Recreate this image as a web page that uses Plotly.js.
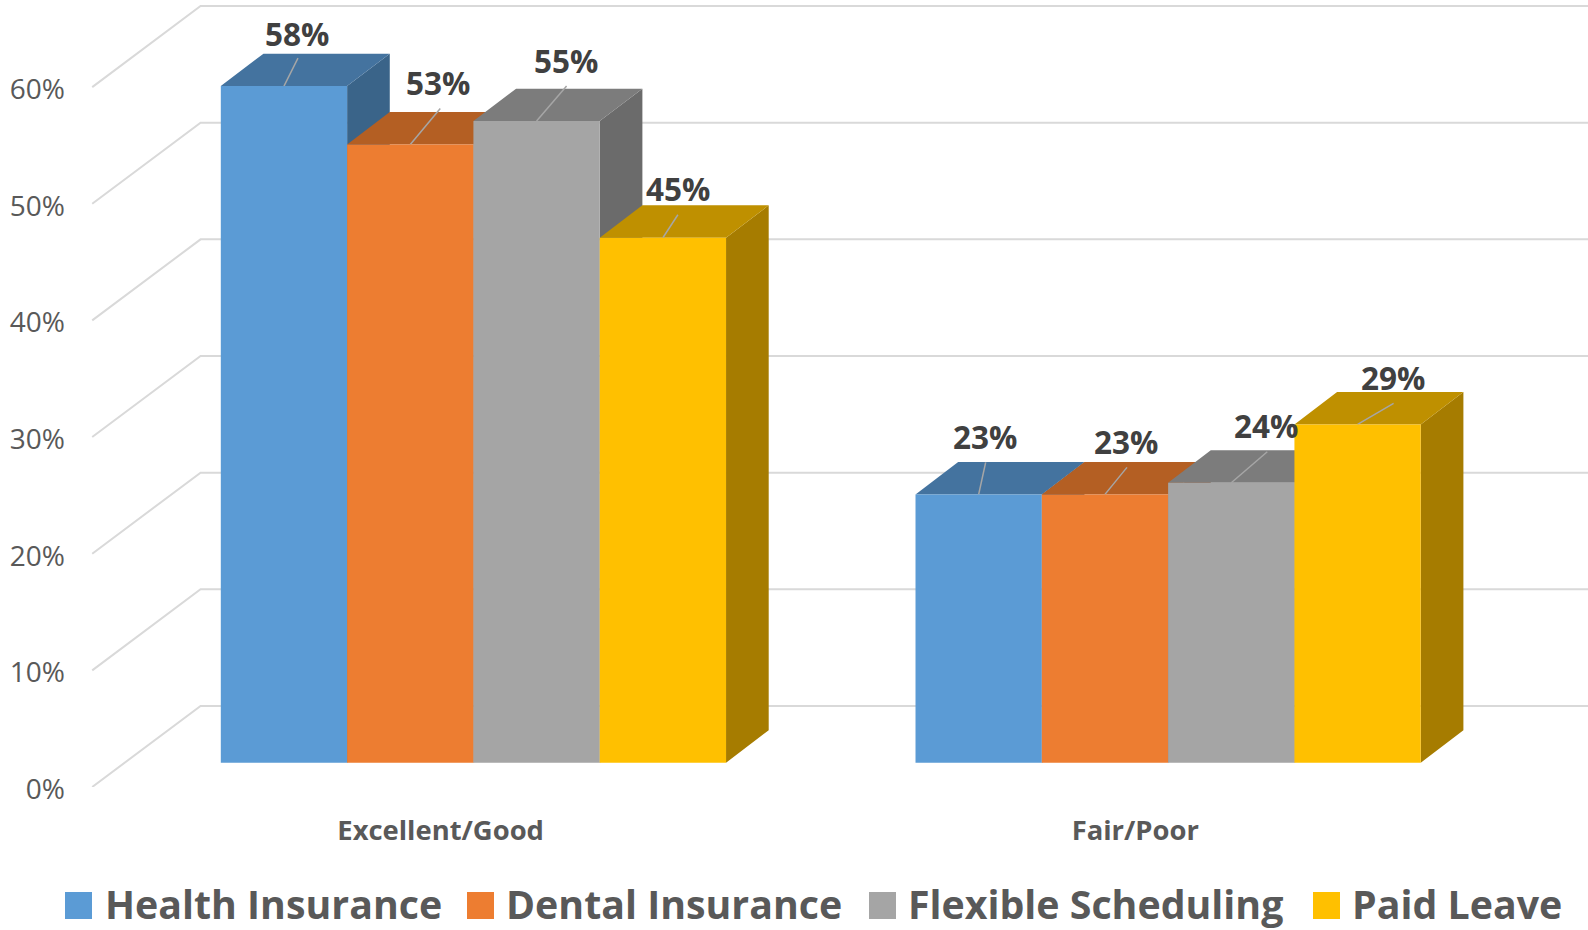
<!DOCTYPE html>
<html><head><meta charset="utf-8">
<script src="https://cdn.plot.ly/plotly-3.0.1.min.js"></script>
<style>html,body{margin:0;padding:0;background:#fff;overflow:hidden}#c{width:1588px;height:930px}</style>
</head><body><div id="c"></div>
<script>
// ---- data ----
const categories = ['Excellent/Good', 'Fair/Poor'];
const seriesNames = ['Health Insurance', 'Dental Insurance', 'Flexible Scheduling', 'Paid Leave'];
const healthInsurance = [58, 23];
const dentalInsurance = [53, 23];
const flexibleScheduling = [55, 24];
const paidLeave = [45, 29];
const yTicks = [0, 10, 20, 30, 40, 50, 60];

// ---- styles ----
const frontColors = ['#5B9BD5', '#ED7D31', '#A5A5A5', '#FFC000'];
const topColors = ['#44739F', '#B45F23', '#7C7C7C', '#BF9000'];
const sideColors = ['#3A6489', '#9C5220', '#6B6B6B', '#A67C00'];
const seriesValues = [healthInsurance, dentalInsurance, flexibleScheduling, paidLeave];
const FONT = 'Open Sans, sans-serif';

// page geometry
const W = 1588, H = 930, mL = 70, mB = 143;
const pxPerX = 694.7, pxPerY = 11.665, cat0Px = 440.6;
const xRange = [(mL - cat0Px) / pxPerX, (W - cat0Px) / pxPerX];
const yRange = [0, (H - mB) / pxPerY];
// oblique depth, in axis units, of the whole floor
const depthX = 0.1535, depthY = 6.95, wallDepthX = 0.156;
const frontD = 0.3, backD = 0.7, wallX = -0.5015;
const barW = 1 / 5.5, barShift = 0.0012;

const traces = [];

// back wall, left wall gridlines
const gx = [], gy = [];
yTicks.forEach(v => {
  gx.push(wallX, wallX + wallDepthX, xRange[1], null);
  gy.push(v, v + depthY, v + depthY, null);
});
traces.push({type: 'scatter', mode: 'lines', x: gx, y: gy, xaxis: 'x', yaxis: 'y',
  line: {color: '#D9D9D9', width: 2}, hoverinfo: 'skip', showlegend: false});

// side and top faces of each box, drawn through the axes
seriesValues.forEach((vals, s) => {
  const sx = [], sy = [], tx = [], ty = [];
  vals.forEach((v, c) => {
    const left = c + (s - 2) * barW + depthX * frontD + barShift;
    const right = left + barW;
    const y0 = depthY * frontD, y1 = v + y0;
    const ddx = depthX * (backD - frontD), ddy = depthY * (backD - frontD);
    sx.push(right, right + ddx, right + ddx, right, right, null);
    sy.push(y0, y0 + ddy, y1 + ddy, y1, y0, null);
    tx.push(left, left + ddx, right + ddx, right, left, null);
    ty.push(y1, y1 + ddy, y1 + ddy, y1, y1, null);
  });
  traces.push({type: 'scatter', mode: 'lines', x: sx, y: sy, fill: 'toself', fillcolor: sideColors[s],
    line: {width: 0, color: sideColors[s]}, hoverinfo: 'skip', showlegend: false, xaxis: 'x', yaxis: 'y'});
  traces.push({type: 'scatter', mode: 'lines', x: tx, y: ty, fill: 'toself', fillcolor: topColors[s],
    line: {width: 0, color: topColors[s]}, hoverinfo: 'skip', showlegend: false, xaxis: 'x', yaxis: 'y'});
});

// leader lines from each bar top, and value labels, offsets in pixels
const leaderX = [[14, 7], [30, 22], [30, 36], [15, 36]];
const leaderY = [[-28, -32], [-36, -27], [-35, -31], [-23, -21]];
const labelOffsetX = [[13, 6.5], [28, 21.5], [29, 35], [15, 35]];
const labelOffsetY = [[-53, -58], [-62, -53], [-61, -57], [-49, -47]];
const annotations = [];
const lx = [], ly = [];
seriesValues.forEach((vals, s) => vals.forEach((v, c) => {
  const cx = c + (s - 1.5) * barW + depthX * frontD + barShift;
  const cy = v + depthY * frontD;
  lx.push(cx, cx + leaderX[s][c] / pxPerX, null);
  ly.push(cy, cy - leaderY[s][c] / pxPerY, null);
  annotations.push({
    x: cx, y: cy, xref: 'x', yref: 'y', text: v + '%', showarrow: false,
    xanchor: 'center', yanchor: 'middle',
    xshift: labelOffsetX[s][c], yshift: -labelOffsetY[s][c],
    font: {family: FONT, size: 31.5, color: '#404040', weight: 700}
  });
}));
traces.push({type: 'scatter', mode: 'lines', x: lx, y: ly, xaxis: 'x', yaxis: 'y',
  line: {color: '#A6A6A6', width: 1.5}, hoverinfo: 'skip', showlegend: false});

// front faces are real bars on an overlaid pair of matching axes
seriesValues.forEach((vals, s) => {
  traces.push({type: 'bar', name: seriesNames[s],
    x: vals.map((v, c) => c + (s - 1.5) * barW + depthX * frontD + barShift),
    y: vals, base: vals.map(() => depthY * frontD), width: barW,
    marker: {color: frontColors[s], line: {width: 0}},
    xaxis: 'x2', yaxis: 'y2', showlegend: false});
});

// legend row
const legendSwatchPx = [65, 467, 869, 1313];
const legendTextPx = [104, 505, 907, 1351];
const px = p => (p - mL) / (W - mL);
const py = p => ((H - mB) - p) / (H - mB);
const shapes = [];
seriesNames.forEach((n, s) => {
  shapes.push({type: 'rect', xref: 'paper', yref: 'paper', layer: 'above',
    x0: px(legendSwatchPx[s]), x1: px(legendSwatchPx[s] + 27), y0: py(919), y1: py(892),
    fillcolor: frontColors[s], line: {width: 0}});
  annotations.push({xref: 'paper', yref: 'paper', x: px(legendTextPx[s]), y: py(904),
    xanchor: 'left', yanchor: 'middle', showarrow: false, text: n, borderpad: 0,
    font: {family: FONT, size: 39.3, color: '#595959', weight: 700}});
});

const layout = {
  width: W, height: H, paper_bgcolor: '#fff', plot_bgcolor: '#fff',
  margin: {l: mL, r: 0, t: 0, b: mB, pad: 0},
  showlegend: false, barmode: 'overlay', dragmode: false,
  xaxis: {range: xRange, tickmode: 'array', tickvals: categories.map((c, i) => i), ticktext: categories,
    showgrid: false, zeroline: false, showline: false, ticks: '', fixedrange: true, ticklabelstandoff: 25,
    tickfont: {family: FONT, size: 27.4, color: '#595959', weight: 700}},
  yaxis: {range: yRange, tickmode: 'array', tickvals: yTicks, ticktext: yTicks.map(t => t + '%'),
    showgrid: false, zeroline: false, showline: false, ticks: '', fixedrange: true,
    ticklabelstandoff: 4, ticklabelshift: 2,
    tickfont: {family: FONT, size: 28, color: '#595959'}},
  xaxis2: {range: xRange, overlaying: 'x', anchor: 'y2', visible: false, fixedrange: true},
  yaxis2: {range: yRange, overlaying: 'y', anchor: 'x2', visible: false, fixedrange: true},
  annotations, shapes
};
Plotly.newPlot('c', traces, layout, {displayModeBar: false, staticPlot: true});
</script></body></html>
